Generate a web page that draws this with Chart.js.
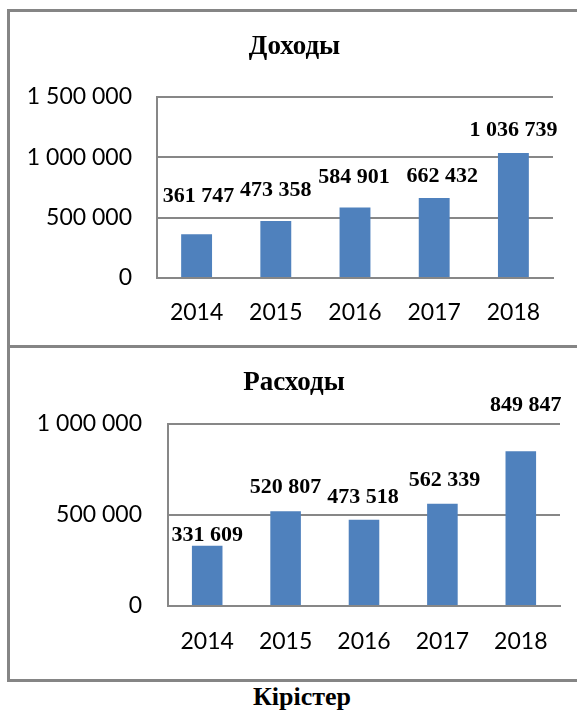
<!DOCTYPE html>
<html>
<head>
<meta charset="utf-8">
<script src="https://cdn.jsdelivr.net/npm/chart.js@4"></script>
<style>
  html, body { margin: 0; padding: 0; background: #fff; }
  body { width: 577px; height: 713px; position: relative; overflow: hidden; }
  .frame { position: absolute; box-sizing: border-box; border: 3px solid #858585; }
  #f1 { left: 7px; top: 9px; width: 600px; height: 339px; }
  #f2 { left: 7px; top: 345px; width: 600px; height: 337px; }
  #c1wrap { position: absolute; left: 0; top: 0; width: 577px; height: 345px; }
  #c2wrap { position: absolute; left: 0; top: 345px; width: 577px; height: 335px; }
  #caption { position: absolute; left: 0; width: 604px; top: 682px; text-align: center;
             font: bold 26px "Liberation Serif", "Times New Roman", serif; color: #000; }
</style>
</head>
<body>
<div class="frame" id="f1"></div>
<div class="frame" id="f2"></div>
<div id="c1wrap"><canvas id="c1"></canvas></div>
<div id="c2wrap"><canvas id="c2"></canvas></div>
<div id="caption">Кірістер</div>
<script>
// ---- data ----
const years = ['2014', '2015', '2016', '2017', '2018'];
const incomeValues = [361747, 473358, 584901, 662432, 1036739];
const expenseValues = [331609, 520807, 473518, 562339, 849847];
const incomeTitle = 'Доходы';
const expenseTitle = 'Расходы';
const incomeTickLabels = ['0', '500 000', '1 000 000', '1 500 000'];
const expenseTickLabels = ['0', '500 000', '1 000 000'];
const tickStep = 500000;

// ---- helpers ----
function fmt(v) { return String(v).replace(/\B(?=(\d{3})+(?!\d))/g, ' '); }

const barColor = '#4f81bd';
const gridColor = '#878787';
const tickFont = { family: 'Lato, "Open Sans", sans-serif', size: 23 };

const valueLabels = {
  id: 'valueLabels',
  afterLayout(chart, args, opts) {
    if (chart.titleBlock && opts.titleLeft != null) chart.titleBlock.left = opts.titleLeft;
  },
  afterDatasetsDraw(chart, args, opts) {
    const ctx = chart.ctx;
    const meta = chart.getDatasetMeta(0);
    const data = chart.data.datasets[0].data;
    ctx.save();
    ctx.font = 'bold 22px "Liberation Serif", "Times New Roman", serif';
    ctx.fillStyle = '#000';
    ctx.textAlign = 'center';
    ctx.textBaseline = 'middle';
    meta.data.forEach((bar, i) => {
      ctx.fillText(fmt(data[i]), bar.x + opts.shift[i], bar.y - opts.rise[i]);
    });
    ctx.restore();
  }
};

function makeChart(id, values, title, tickLabels, maxV, cfg) {
  return new Chart(document.getElementById(id), {
    type: 'bar',
    data: {
      labels: years,
      datasets: [{
        data: values,
        backgroundColor: barColor,
        borderWidth: 0,
        categoryPercentage: 1,
        barPercentage: 0.39
      }]
    },
    options: {
      responsive: true,
      maintainAspectRatio: false,
      animation: false,
      devicePixelRatio: 1,
      layout: { padding: { left: cfg.padLeft, right: cfg.padRight, top: 0, bottom: 0 } },
      plugins: {
        legend: { display: false },
        tooltip: { enabled: false },
        title: {
          display: true,
          text: title,
          color: '#000',
          font: { family: '"Liberation Serif", "Times New Roman", serif', size: 27, weight: 'bold', lineHeight: 1.2 },
          padding: { top: cfg.titleTop, bottom: cfg.titleBottom }
        },
        valueLabels: { rise: cfg.rise, shift: cfg.shift, titleLeft: cfg.titleLeft }
      },
      scales: {
        x: {
          grid: { display: false, drawTicks: false },
          border: { display: true, color: gridColor, width: 2 },
          ticks: { color: '#000', font: tickFont, padding: cfg.xPad, maxRotation: 0 },
          afterFit(s) { s.height = cfg.xHeight; }
        },
        y: {
          min: 0,
          max: maxV,
          grid: { color: gridColor, lineWidth: 2, drawTicks: false },
          border: { display: true, color: gridColor, width: 2 },
          ticks: {
            stepSize: tickStep,
            color: '#000',
            font: tickFont,
            padding: cfg.yPad,
            callback: (v) => tickLabels[Math.round(v / tickStep)]
          },
          afterFit(s) { s.width = cfg.yWidth; }
        }
      }
    },
    plugins: [valueLabels]
  });
}

makeChart('c1', incomeValues, incomeTitle, incomeTickLabels, 1500000, {
  padLeft: 0, padRight: 24, titleTop: 31, titleBottom: 33.6, xHeight: 67, xPad: 21, yWidth: 157, yPad: 25,
  titleLeft: 36,
  rise: [38, 31, 30, 22, 23], shift: [2, 0, -1, 8, 0]
});
makeChart('c2', expenseValues, expenseTitle, expenseTickLabels, 1000000, {
  padLeft: 28, padRight: 17, titleTop: 22, titleBottom: 24.6, xHeight: 74, xPad: 22, yWidth: 140, yPad: 26,
  titleLeft: null,
  rise: [10, 24, 23, 23, 46], shift: [0, 0, -1, 2, 5]
});
</script>
</body>
</html>
